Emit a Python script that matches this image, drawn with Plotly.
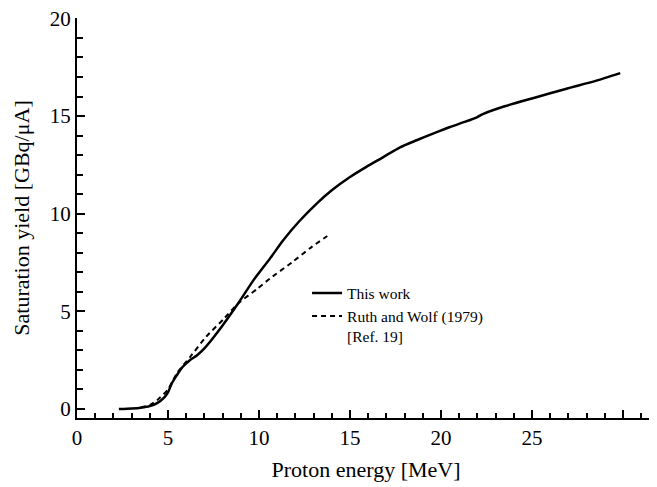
import plotly.graph_objects as go

# Data
this_work_x = [2.3, 3.0, 3.5, 4.0, 4.4, 4.8, 5.0, 5.2, 5.5, 5.8, 6.2, 6.6, 7.0, 7.7, 8.85,
               9.7, 10.6, 11.33, 12.2, 13.17, 14.0, 15.0, 15.9, 16.83, 17.75, 18.66, 19.56,
               20.5, 21.3, 22.0, 22.3, 23.5, 25.0, 26.9, 28.5, 29.85]
this_work_y = [0.0, 0.03, 0.07, 0.15, 0.3, 0.6, 0.85, 1.3, 1.75, 2.15, 2.5, 2.75, 3.1, 3.9, 5.4,
               6.6, 7.7, 8.64, 9.6, 10.52, 11.2, 11.88, 12.4, 12.9, 13.4, 13.76, 14.1,
               14.44, 14.7, 14.95, 15.1, 15.5, 15.9, 16.4, 16.8, 17.2]

ruth_x = [3.5, 4.0, 4.4, 5.0, 5.5, 6.2, 7.1, 8.1, 8.85, 9.9, 10.6, 11.8, 12.9, 13.9]
ruth_y = [0.08, 0.2, 0.45, 1.0, 1.85, 2.65, 3.7, 4.65, 5.4, 6.15, 6.68, 7.5, 8.3, 8.95]

x_tick_vals = [0, 5, 10, 15, 20, 25, 30]
x_tick_text = ["0", "5", "10", "15", "20", "25", ""]
y_tick_vals = [0, 5, 10, 15, 20]
y_tick_text = ["0", "5", "10", "15", "20"]

FONT = "Liberation Serif, Times New Roman, serif"

fig = go.Figure()
fig.add_trace(go.Scatter(x=this_work_x, y=this_work_y, mode="lines", name="This work",
                         line=dict(color="black", width=2.5, shape="spline", smoothing=0.6)))
fig.add_trace(go.Scatter(x=ruth_x, y=ruth_y, mode="lines",
                         name="Ruth and Wolf (1979)<br>[Ref. 19]",
                         line=dict(color="black", width=2, dash="5px,4px", shape="spline", smoothing=0.6)))

fig.update_layout(
    width=649, height=479,
    margin=dict(l=69, r=2, t=10, b=69, autoexpand=False),
    paper_bgcolor="white", plot_bgcolor="white",
    font=dict(family=FONT, size=21, color="black"),
    showlegend=True,
    legend=dict(x=0.398, y=0.354, xanchor="left", yanchor="top",
                bgcolor="rgba(0,0,0,0)", font=dict(family=FONT, size=15.5),
                valign="top", tracegroupgap=0, itemwidth=30),
)
fig.update_xaxes(
    range=[0, 31.76], showgrid=False, zeroline=False, automargin=False,
    showline=True, linecolor="black", linewidth=2,
    tickmode="array", tickvals=x_tick_vals, ticktext=x_tick_text,
    ticks="inside", ticklen=8, tickwidth=1.5, tickcolor="black",
    ticklabeloverflow="allow",
    minor=dict(tickmode="linear", tick0=0, dtick=1, ticks="inside", ticklen=5,
               tickwidth=1.5, tickcolor="black", showgrid=False),
    title=dict(text="Proton energy [MeV]", standoff=12, font=dict(size=22)),
)
fig.update_yaxes(
    range=[-0.46, 20.02], showgrid=False, zeroline=False, automargin=False,
    showline=True, linecolor="black", linewidth=2,
    tickmode="array", tickvals=y_tick_vals, ticktext=y_tick_text,
    ticks="inside", ticklen=8, tickwidth=1.5, tickcolor="black",
    ticklabeloverflow="allow",
    minor=dict(tickmode="linear", tick0=0, dtick=1, ticks="inside", ticklen=6,
               tickwidth=1.5, tickcolor="black", showgrid=False),
    title=dict(text="Saturation yield [GBq/μA]", standoff=14, font=dict(size=22)),
)

fig.write_html("out.html")
